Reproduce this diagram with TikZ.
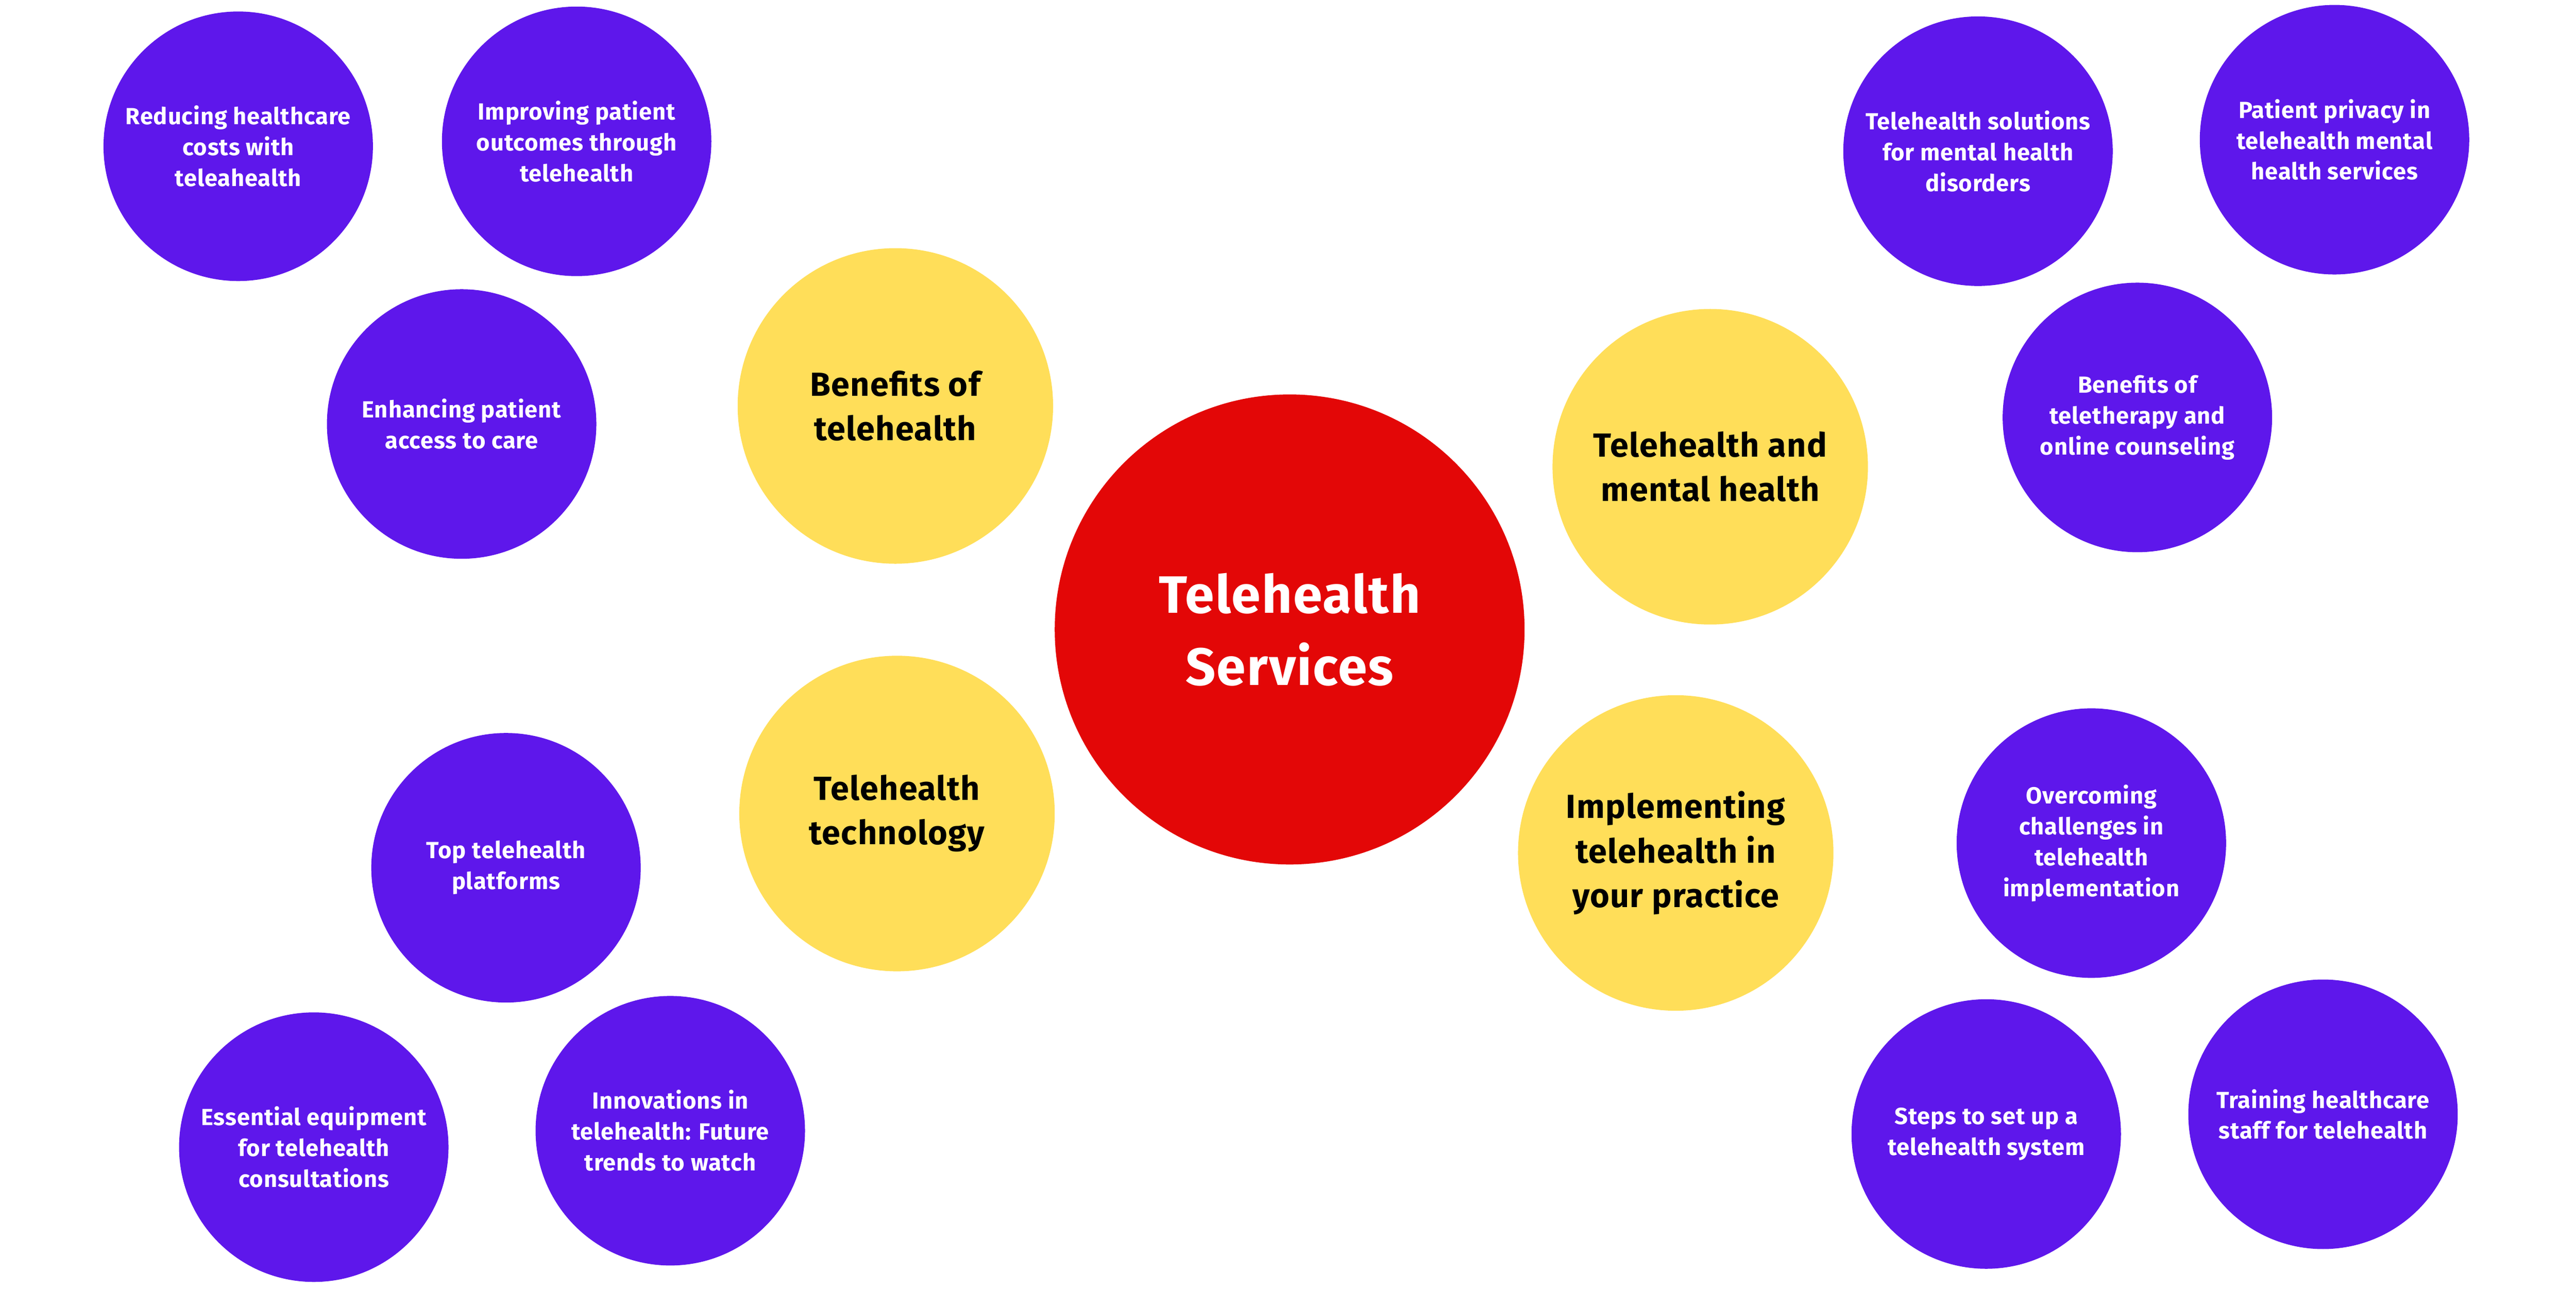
\documentclass[tikz,border=0pt]{standalone}
\usepackage{fontspec}
\setmainfont[LetterSpace=2]{Fira Sans}
\definecolor{cred}{HTML}{E30707}
\definecolor{cyel}{HTML}{FFDE59}
\definecolor{cpur}{HTML}{5E17EB}
\tikzset{
  hub/.style={circle,fill=cred,inner sep=0pt,minimum size=286pt,align=center,text=white,font=\fontsize{32}{44}\selectfont\bfseries},
  topic/.style={circle,fill=cyel,inner sep=0pt,minimum size=192pt,align=center,text=black,font=\fontsize{20.3}{27}\selectfont\bfseries},
  leaf/.style={circle,fill=cpur,inner sep=0pt,minimum size=164pt,align=center,text=white,font=\fontsize{14.2}{18.8}\selectfont\bfseries}
}
\begin{document}
\begin{tikzpicture}[x=1pt,y=-1pt]
\useasboundingbox (0,0) rectangle (1568,784);
\node[hub] (hub) at (785,383) {Telehealth\\Services};
\node[topic] (ben) at (545,247) {Benefits of\\telehealth};
\node[topic] (tech) at (546,495) {Telehealth\\technology};
\node[topic] (mh) at (1041,284) {Telehealth and\\mental health};
\node[topic] (impl) at (1020,519) {Implementing\\telehealth in\\your practice};
\node[leaf] (l1) at (145,89) {Reducing healthcare\\costs with\\teleahealth};
\node[leaf] (l2) at (351,86) {Improving patient\\outcomes through\\telehealth};
\node[leaf] (l3) at (281,258) {Enhancing patient\\access to care};
\node[leaf] (l4) at (308,528) {Top telehealth\\platforms};
\node[leaf] (l5) at (191,698) {Essential equipment\\for telehealth\\consultations};
\node[leaf] (l6) at (408,688) {Innovations in\\telehealth: Future\\trends to watch};
\node[leaf] (l7) at (1204,92) {Telehealth solutions\\for mental health\\disorders};
\node[leaf] (l8) at (1421,85) {Patient privacy in\\telehealth mental\\health services};
\node[leaf] (l9) at (1301,254) {Benefits of\\teletherapy and\\online counseling};
\node[leaf] (l10) at (1273,513) {Overcoming\\challenges in\\telehealth\\implementation};
\node[leaf] (l11) at (1209,690) {Steps to set up a\\telehealth system};
\node[leaf] (l12) at (1414,678) {Training healthcare\\staff for telehealth};
\end{tikzpicture}
\end{document}
